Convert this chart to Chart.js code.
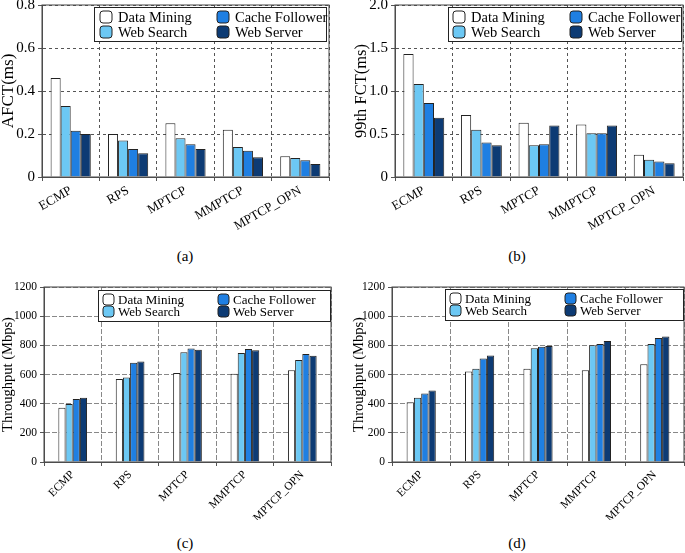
<!DOCTYPE html>
<html>
<head>
<meta charset="utf-8">
<script src="https://cdn.jsdelivr.net/npm/chart.js@4.4.0/dist/chart.umd.min.js"></script>
<style>
  body { margin: 0; background: #fff; }
  #figure { position: relative; width: 685px; height: 553px; font-family: "Liberation Serif", serif; color: #000; }
  .panel { position: absolute; }
  .caption { position: absolute; font-size: 15px; transform: translateX(-50%); }
</style>
</head>
<body>
<div id="figure">
  <div class="panel" style="left:0;top:0;width:340px;height:240px"><canvas id="afctChart"></canvas></div>
  <div class="panel" style="left:340px;top:0;width:345px;height:240px"><canvas id="fct99Chart"></canvas></div>
  <div class="panel" style="left:0;top:280px;width:340px;height:240px"><canvas id="thrCChart"></canvas></div>
  <div class="panel" style="left:340px;top:280px;width:345px;height:240px"><canvas id="thrDChart"></canvas></div>
  <div class="caption" style="left:185px;top:248px">(a)</div>
  <div class="caption" style="left:517px;top:248px">(b)</div>
  <div class="caption" style="left:185px;top:535px">(c)</div>
  <div class="caption" style="left:517px;top:535px">(d)</div>
</div>
<script>
const categories = ["ECMP", "RPS", "MPTCP", "MMPTCP", "MPTCP_OPN"];
const seriesNames = ["Data Mining", "Web Search", "Cache Follower", "Web Server"];
const seriesColors = ["#ffffff", "#6cc8f4", "#1f7fe2", "#0d3b74"];

// (a) average FCT (ms)
const afctDataMining = [0.46, 0.20, 0.25, 0.22, 0.097];
const afctWebSearch = [0.33, 0.17, 0.18, 0.14, 0.088];
const afctCacheFollower = [0.215, 0.13, 0.152, 0.122, 0.078];
const afctWebServer = [0.20, 0.11, 0.13, 0.092, 0.06];
const afctTicks = [0, 0.2, 0.4, 0.6, 0.8];
const afctTickLabels = ["0", "0.2", "0.4", "0.6", "0.8"];

// (b) 99th percentile FCT (ms)
const fct99DataMining = [1.43, 0.72, 0.63, 0.61, 0.26];
const fct99WebSearch = [1.08, 0.55, 0.37, 0.51, 0.20];
const fct99CacheFollower = [0.86, 0.40, 0.38, 0.51, 0.18];
const fct99WebServer = [0.69, 0.37, 0.60, 0.60, 0.16];
const fct99Ticks = [0, 0.5, 1.0, 1.5, 2.0];
const fct99TickLabels = ["0", "0.5", "1.0", "1.5", "2.0"];

// (c) throughput (Mbps)
const thrCDataMining = [372, 570, 610, 606, 630];
const thrCWebSearch = [398, 580, 752, 747, 700];
const thrCCacheFollower = [432, 680, 779, 775, 740];
const thrCWebServer = [441, 690, 770, 766, 729];

// (d) throughput (Mbps)
const thrDDataMining = [410, 620, 640, 630, 670];
const thrDWebSearch = [440, 640, 780, 800, 810];
const thrDCacheFollower = [470, 710, 790, 810, 850];
const thrDWebServer = [490, 730, 795, 830, 860];

const thrTicks = [0, 200, 400, 600, 800, 1000, 1200];
const thrTickLabels = ["0", "200", "400", "600", "800", "1000", "1200"];

const serif = "'Liberation Serif', serif";
Chart.defaults.font.family = serif;
Chart.defaults.color = "#000";

// solid box around the plot area
const plotFrame = {
  id: "plotFrame",
  afterDatasetsDraw(chart) {
    const { ctx, chartArea: a } = chart;
    ctx.save();
    ctx.strokeStyle = "#444";
    ctx.lineWidth = 1;
    ctx.strokeRect(a.left, a.top, a.right - a.left, a.bottom - a.top);
    ctx.restore();
  },
};

// 2x2 legend with a border, filled column by column
const boxLegend = {
  id: "boxLegend",
  afterDraw(chart, args, opts) {
    const c = chart.ctx;
    c.save();
    c.fillStyle = "#fff";
    c.fillRect(opts.x, opts.y, opts.w, opts.h);
    c.strokeStyle = "#222";
    c.lineWidth = 1;
    c.strokeRect(opts.x + 0.5, opts.y + 0.5, opts.w, opts.h);
    c.font = opts.fontSize + "px " + serif;
    c.textBaseline = "middle";
    chart.data.datasets.forEach((ds, i) => {
      const mx = opts.cols[Math.floor(i / 2)];
      const my = opts.rows[i % 2];
      c.beginPath();
      c.roundRect(mx, my - opts.marker / 2, opts.marker, opts.marker, 3);
      c.fillStyle = ds.backgroundColor;
      c.fill();
      c.strokeStyle = "#222";
      c.stroke();
      c.fillStyle = "#000";
      c.fillText(ds.label, mx + opts.marker + opts.gap, my + 1);
    });
    c.restore();
  },
};

function buildChart(canvasId, series, setup) {
  const ctx = document.getElementById(canvasId).getContext("2d");

  const datasets = series.map((values, i) => ({
    label: seriesNames[i],
    data: values,
    backgroundColor: seriesColors[i],
    borderColor: "#222",
    borderWidth: 1,
    categoryPercentage: setup.groupWidth,
    barPercentage: 1.0,
  }));

  const config = {
    type: "bar",
    data: { labels: categories, datasets: datasets },
    plugins: [plotFrame, boxLegend],
    options: {
      responsive: true,
      maintainAspectRatio: false,
      animation: false,
      layout: { padding: setup.padding },
      plugins: {
        legend: { display: false },
        tooltip: { enabled: false },
        boxLegend: setup.legend,
      },
      scales: {
        x: {
          afterFit: (scale) => {
            scale.height = setup.xAxisHeight;
            scale.paddingLeft = 0;
            scale.paddingRight = 0;
          },
          ticks: {
            autoSkip: false,
            minRotation: setup.rotation,
            maxRotation: setup.rotation,
            padding: 2,
            font: { size: setup.xFont },
          },
          grid: {
            color: setup.gridColor,
            tickLength: 4,
            tickColor: "#555",
            tickBorderDash: [],
          },
          border: { color: "#555", dash: setup.gridDash },
        },
        y: {
          min: setup.yTicks[0],
          max: setup.yTicks[setup.yTicks.length - 1],
          afterBuildTicks: (scale) => {
            scale.ticks = setup.yTicks.map((v) => ({ value: v }));
          },
          afterFit: (scale) => {
            scale.width = setup.yAxisWidth;
            scale.paddingTop = 0;
            scale.paddingBottom = 0;
          },
          ticks: {
            callback: (v, i) => setup.yLabels[i],
            padding: 3,
            font: { size: setup.yFont },
          },
          grid: {
            color: setup.gridColor,
            tickLength: 4,
            tickColor: "#555",
            tickBorderDash: [],
          },
          border: { color: "#555", dash: setup.gridDash },
          title: {
            display: true,
            text: setup.yTitle,
            font: { size: setup.titleFont, lineHeight: 1 },
            padding: { top: setup.titlePad, bottom: 0 },
          },
        },
      },
    },
  };

  return new Chart(ctx, config);
}

document.addEventListener("DOMContentLoaded", () => {
  buildChart("afctChart", [afctDataMining, afctWebSearch, afctCacheFollower, afctWebServer], {
    groupWidth: 0.7,
    padding: { left: 0, right: 11, top: 5, bottom: 0 },
    xAxisHeight: 63,
    yAxisWidth: 42,
    rotation: 30,
    xFont: 13,
    yFont: 15,
    yTicks: afctTicks,
    yLabels: afctTickLabels,
    yTitle: "AFCT(ms)",
    titleFont: 17,
    titlePad: 0,
    gridColor: "#555",
    gridDash: [3, 3],
    legend: { x: 94, y: 7, w: 232, h: 34, cols: [100, 217], rows: [17, 32], marker: 12, gap: 6, fontSize: 14.5 },
  });

  buildChart("fct99Chart", [fct99DataMining, fct99WebSearch, fct99CacheFollower, fct99WebServer], {
    groupWidth: 0.71,
    padding: { left: 0, right: 2, top: 5, bottom: 0 },
    xAxisHeight: 63,
    yAxisWidth: 55,
    rotation: 30,
    xFont: 13,
    yFont: 15,
    yTicks: fct99Ticks,
    yLabels: fct99TickLabels,
    yTitle: "99th FCT(ms)",
    titleFont: 16.5,
    titlePad: 13,
    gridColor: "#555",
    gridDash: [3, 3],
    legend: { x: 108, y: 7, w: 233, h: 34, cols: [113, 230], rows: [17, 32], marker: 12, gap: 6, fontSize: 14.5 },
  });

  buildChart("thrCChart", [thrCDataMining, thrCWebSearch, thrCCacheFollower, thrCWebServer], {
    groupWidth: 0.5,
    padding: { left: 0, right: 9, top: 7, bottom: 0 },
    xAxisHeight: 58,
    yAxisWidth: 44,
    rotation: 45,
    xFont: 11.5,
    yFont: 11.5,
    yTicks: thrTicks,
    yLabels: thrTickLabels,
    yTitle: "Throughput (Mbps)",
    titleFont: 14.5,
    titlePad: 1,
    gridColor: "#888",
    gridDash: [5, 2],
    legend: { x: 98, y: 10, w: 232, h: 31, cols: [103, 218], rows: [19.5, 31.5], marker: 11, gap: 4, fontSize: 13 },
  });

  buildChart("thrDChart", [thrDDataMining, thrDWebSearch, thrDCacheFollower, thrDWebServer], {
    groupWidth: 0.5,
    padding: { left: 0, right: 1, top: 7, bottom: 0 },
    xAxisHeight: 58,
    yAxisWidth: 52,
    rotation: 45,
    xFont: 11.5,
    yFont: 11.5,
    yTicks: thrTicks,
    yLabels: thrTickLabels,
    yTitle: "Throughput (Mbps)",
    titleFont: 14.5,
    titlePad: 12,
    gridColor: "#888",
    gridDash: [5, 2],
    legend: { x: 105, y: 9, w: 238, h: 31, cols: [110, 225], rows: [18.5, 30.5], marker: 11, gap: 4, fontSize: 13 },
  });
});
</script>
</body>
</html>
